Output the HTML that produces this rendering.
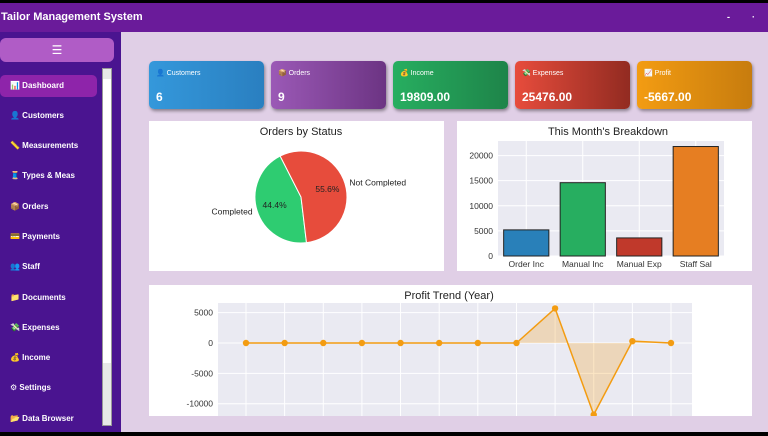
<!DOCTYPE html>
<html><head><meta charset="utf-8">
<style>
*{box-sizing:border-box;margin:0;padding:0}
body{width:768px;height:436px;overflow:hidden;background:#000;font-family:"Liberation Sans","DejaVu Sans",sans-serif;position:relative}
.abs{position:absolute}
#title{left:0;top:3px;width:768px;height:29px;background:#6a1b9a;color:#fff;font-weight:bold;font-size:11px;line-height:29px;padding-left:1px}
#side{left:0;top:32px;width:121px;height:400px;background:#4a1490}
#content{left:121px;top:32px;width:647px;height:400px;background:#e0cfe6}
.nav{position:absolute;left:0;color:#fff;font-size:8px;font-weight:bold;padding-left:10px;height:22px;line-height:22px;width:97px}
.card{position:absolute;top:61px;width:115px;height:48px;border-radius:5px;color:#fff;box-shadow:1px 2px 3px rgba(0,0,0,.4)}
.card .l{position:absolute;left:7px;top:8px;font-size:7px}
.card .v{position:absolute;left:7px;top:29px;font-size:12px;font-weight:bold}
.panel{position:absolute;background:#fff}
</style></head><body>
<div class="abs" id="title">Tailor Management System<span style="position:absolute;left:727px;font-size:9px">-</span><span style="position:absolute;left:752px;font-size:9px">·</span></div>
<div class="abs" id="side">
 <div class="abs" style="left:0;top:6px;width:114px;height:24px;background:#b05cc6;border-radius:6px;color:#fff;text-align:center;line-height:24px;font-size:12px">☰</div>
 <div class="nav" style="top:43px;background:#8e24aa;border-radius:5px">📊 Dashboard</div>
 <div class="nav" style="top:73px">👤 Customers</div>
 <div class="nav" style="top:103px">📏 Measurements</div>
 <div class="nav" style="top:133px">🧵 Types &amp; Meas</div>
 <div class="nav" style="top:164px">📦 Orders</div>
 <div class="nav" style="top:194px">💳 Payments</div>
 <div class="nav" style="top:224px">👥 Staff</div>
 <div class="nav" style="top:255px">📁 Documents</div>
 <div class="nav" style="top:285px">💸 Expenses</div>
 <div class="nav" style="top:315px">💰 Income</div>
 <div class="nav" style="top:345px">⚙ Settings</div>
 <div class="nav" style="top:376px">📂 Data Browser</div>
 <div class="abs" style="left:102px;top:36px;width:10px;height:358px;background:#e8e8e8;border:1px solid #999">
  <div class="abs" style="left:0;top:10px;width:8px;height:284px;background:#fff"></div>
 </div>
</div>
<div class="abs" id="content"></div>

<div class="card" style="left:149px;background:linear-gradient(90deg,#3498db,#2a7fc0)"><div class="l">👤 Customers</div><div class="v">6</div></div>
<div class="card" style="left:271px;background:linear-gradient(90deg,#9b59b6,#6c3483)"><div class="l">📦 Orders</div><div class="v">9</div></div>
<div class="card" style="left:393px;background:linear-gradient(90deg,#27ae60,#1e8449)"><div class="l">💰 Income</div><div class="v">19809.00</div></div>
<div class="card" style="left:515px;background:linear-gradient(90deg,#e74c3c,#922b21)"><div class="l">💸 Expenses</div><div class="v">25476.00</div></div>
<div class="card" style="left:637px;background:linear-gradient(90deg,#f39c12,#c77c0e)"><div class="l">📈 Profit</div><div class="v">-5667.00</div></div>

<div class="panel" style="left:149px;top:121px;width:295px;height:150px">
<svg width="295" height="150" id="pie" font-family="Liberation Sans, sans-serif"></svg></div>
<div class="panel" style="left:457px;top:121px;width:295px;height:150px">
<svg width="295" height="150" id="bar" font-family="Liberation Sans, sans-serif"></svg></div>
<div class="panel" style="left:149px;top:285px;width:603px;height:131px">
<svg width="603" height="131" id="line" font-family="Liberation Sans, sans-serif"></svg></div>

<script>
const pieLabels=["Completed","Not Completed"];
const pieValues=[44.4,55.6];
const pieColors=["#2ecc71","#e74c3c"];
const barCats=["Order Inc","Manual Inc","Manual Exp","Staff Sal"];
const barVals=[5200,14600,3600,21800];
const barTicks=[0,5000,10000,15000,20000];
const barColors=["#2980b9","#27ae60","#c0392b","#e67e22"];
const profitVals=[0,0,0,0,0,0,0,0,5700,-11800,300,0];
const profitTicks=[5000,0,-5000,-10000];
const NS="http://www.w3.org/2000/svg";
function mk(p,t,a,txt){const e=document.createElementNS(NS,t);for(const k in a)e.setAttribute(k,a[k]);if(txt!==undefined)e.textContent=txt;p.appendChild(e);return e;}

// PIE
(function(){
const s=document.getElementById('pie');
const t=mk(s,'text',{x:152,y:14,'font-size':11,'text-anchor':'middle',fill:'#222'},'Orders by Status');

const cx=152,cy=76,r=46;const tot=pieValues.reduce((a,b)=>a+b,0);
let a0=117;
pieValues.forEach((v,i)=>{
 const sw=v/tot*360,a1=a0+sw;
 const p=d=>[cx+r*Math.cos(d*Math.PI/180),cy-r*Math.sin(d*Math.PI/180)];
 const [x0,y0]=p(a0),[x1,y1]=p(a1);
 const path=mk(s,'path',{d:`M${cx},${cy}L${x0},${y0}A${r},${r} 0 ${sw>180?1:0} 0 ${x1},${y1}Z`,fill:pieColors[i],stroke:'#fff','stroke-width':1});
 
 const m=(a0+sw/2)*Math.PI/180;
 const pt=mk(s,'text',{x:cx+r*0.6*Math.cos(m),y:cy-r*0.6*Math.sin(m)+3,'font-size':8.5,'text-anchor':'middle',fill:'#222'},v.toFixed(1)+'%');
 
 const lx=cx+r*1.1*Math.cos(m),ly=cy-r*1.1*Math.sin(m)+3;
 const lt=mk(s,'text',{x:lx,y:ly,'font-size':8.5,'text-anchor':Math.cos(m)<0?'end':'start',fill:'#222'},pieLabels[i]);
 
 a0=a1;
});
})();

// BAR
(function(){
const s=document.getElementById('bar');
const t=mk(s,'text',{x:151,y:14,'font-size':11,'text-anchor':'middle',fill:'#222'},"This Month's Breakdown");

const L=41,R=267,T=20,B=135,ymax=22900;
const y=v=>B-v/ymax*(B-T);
const bw=(R-L)/barCats.length;const x=i=>L+bw*(i+0.5);
const bg=mk(s,'rect',{x:L,y:T,width:R-L,height:B-T,fill:'#eaeaf2'});

barTicks.forEach(v=>{mk(s,'line',{x1:L,x2:R,y1:y(v),y2:y(v),stroke:'#fff'});
 const tl=mk(s,'text',{x:L-5,y:y(v)+3,'font-size':8.5,'text-anchor':'end',fill:'#333'},v);
 });
barCats.forEach((c,i)=>{mk(s,'line',{x1:x(i),x2:x(i),y1:T,y2:B,stroke:'#fff'});});
barCats.forEach((c,i)=>{
 const r=mk(s,'rect',{x:x(i)-bw*0.4,y:y(barVals[i]),width:bw*0.8,height:B-y(barVals[i]),fill:barColors[i],stroke:'#222','stroke-width':1});
 
 const tl=mk(s,'text',{x:x(i),y:B+11,'font-size':8.5,'text-anchor':'middle',fill:'#333'},c);
 
});
})();

// LINE
(function(){
const s=document.getElementById('line');
const t=mk(s,'text',{x:300,y:14,'font-size':11,'text-anchor':'middle',fill:'#222'},'Profit Trend (Year)');

const L=69,R=543,T=18,B=131;
const y=v=>58-v*0.00607;
const n=profitVals.length;const x=i=>97+i*(522-97)/(n-1);
const bg=mk(s,'rect',{x:L,y:T,width:R-L,height:B-T,fill:'#eaeaf2'});

profitTicks.forEach(v=>{mk(s,'line',{x1:L,x2:R,y1:y(v),y2:y(v),stroke:'#fff'});
 const tl=mk(s,'text',{x:L-5,y:y(v)+3,'font-size':8.5,'text-anchor':'end',fill:'#333'},v);
 });
profitVals.forEach((v,i)=>mk(s,'line',{x1:x(i),x2:x(i),y1:T,y2:B,stroke:'#fff'}));
let d=`M${x(0)},${y(0)}`;profitVals.forEach((v,i)=>d+=`L${x(i)},${y(v)}`);d+=`L${x(n-1)},${y(0)}Z`;
const f=mk(s,'path',{d:d,fill:'#f39c12','fill-opacity':0.25});

const pl=mk(s,'polyline',{points:profitVals.map((v,i)=>x(i)+','+y(v)).join(' '),fill:'none',stroke:'#f39c12','stroke-width':1.5});

profitVals.forEach((v,i)=>{const c=mk(s,'circle',{cx:x(i),cy:y(v),r:3.2,fill:'#f39c12'});
 });
})();
</script>
<div class="abs" style="left:0;top:432px;width:768px;height:4px;background:#000"></div>
</body></html>
